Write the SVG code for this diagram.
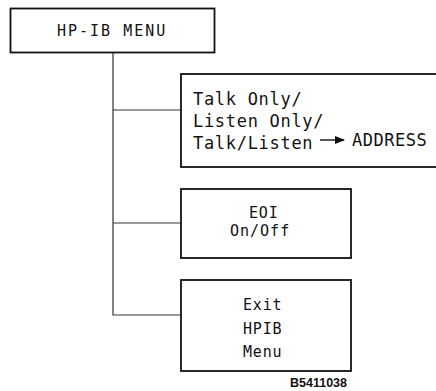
<svg xmlns="http://www.w3.org/2000/svg" width="436" height="391" viewBox="0 0 436 391">
<defs>
<style>
.box{fill:#fff;stroke:#111;stroke-width:1.8}
.con{fill:none;stroke:#333;stroke-width:1.2}
.t{font-family:"DejaVu Sans Mono","Liberation Mono",monospace;fill:#111}
.big{font-size:17px;letter-spacing:0.7px}
.sm{font-size:15px;letter-spacing:0.8px}
</style>
<marker id="ah" markerWidth="10" markerHeight="8" refX="9" refY="4" orient="auto" markerUnits="userSpaceOnUse">
<path d="M0,0 L10,4 L0,8 Z" fill="#111"/>
</marker>
</defs>
<rect width="436" height="391" fill="#fff"/>
<g id="connectors">
<path class="con" d="M113,53 V315 H181 M113,110 H181 M113,223 H181"/>
</g>
<g id="hpib-menu">
<rect class="box" x="10.5" y="8.5" width="204" height="44"/>
<text class="t" x="57" y="36" style="font-size:15px;letter-spacing:2px">HP-IB MENU</text>
</g>
<g id="talk-listen">
<rect class="box" x="181" y="74" width="262" height="93"/>
<text class="t big" x="193" y="105">Talk Only/</text>
<text class="t big" x="193" y="127">Listen Only/</text>
<text class="t big" x="193" y="149">Talk/Listen</text>
<line x1="320" y1="140" x2="344" y2="140" stroke="#111" stroke-width="1.4" marker-end="url(#ah)"/>
<text class="t big" x="352" y="146" style="letter-spacing:0.5px">ADDRESS</text>
</g>
<g id="eoi">
<rect class="box" x="181" y="189" width="170" height="69"/>
<text class="t sm" x="249" y="218">EOI</text>
<text class="t sm" x="230" y="236" style="letter-spacing:1px">On/Off</text>
</g>
<g id="exit">
<rect class="box" x="181" y="280" width="170" height="91"/>
<text class="t sm" x="243" y="310">Exit</text>
<text class="t sm" x="243" y="334">HPIB</text>
<text class="t sm" x="243" y="357">Menu</text>
</g>
<text x="290" y="387" style="font-family:'Liberation Sans',Arial,sans-serif;font-weight:bold;font-size:12.5px;fill:#111">B5411038</text>
</svg>
